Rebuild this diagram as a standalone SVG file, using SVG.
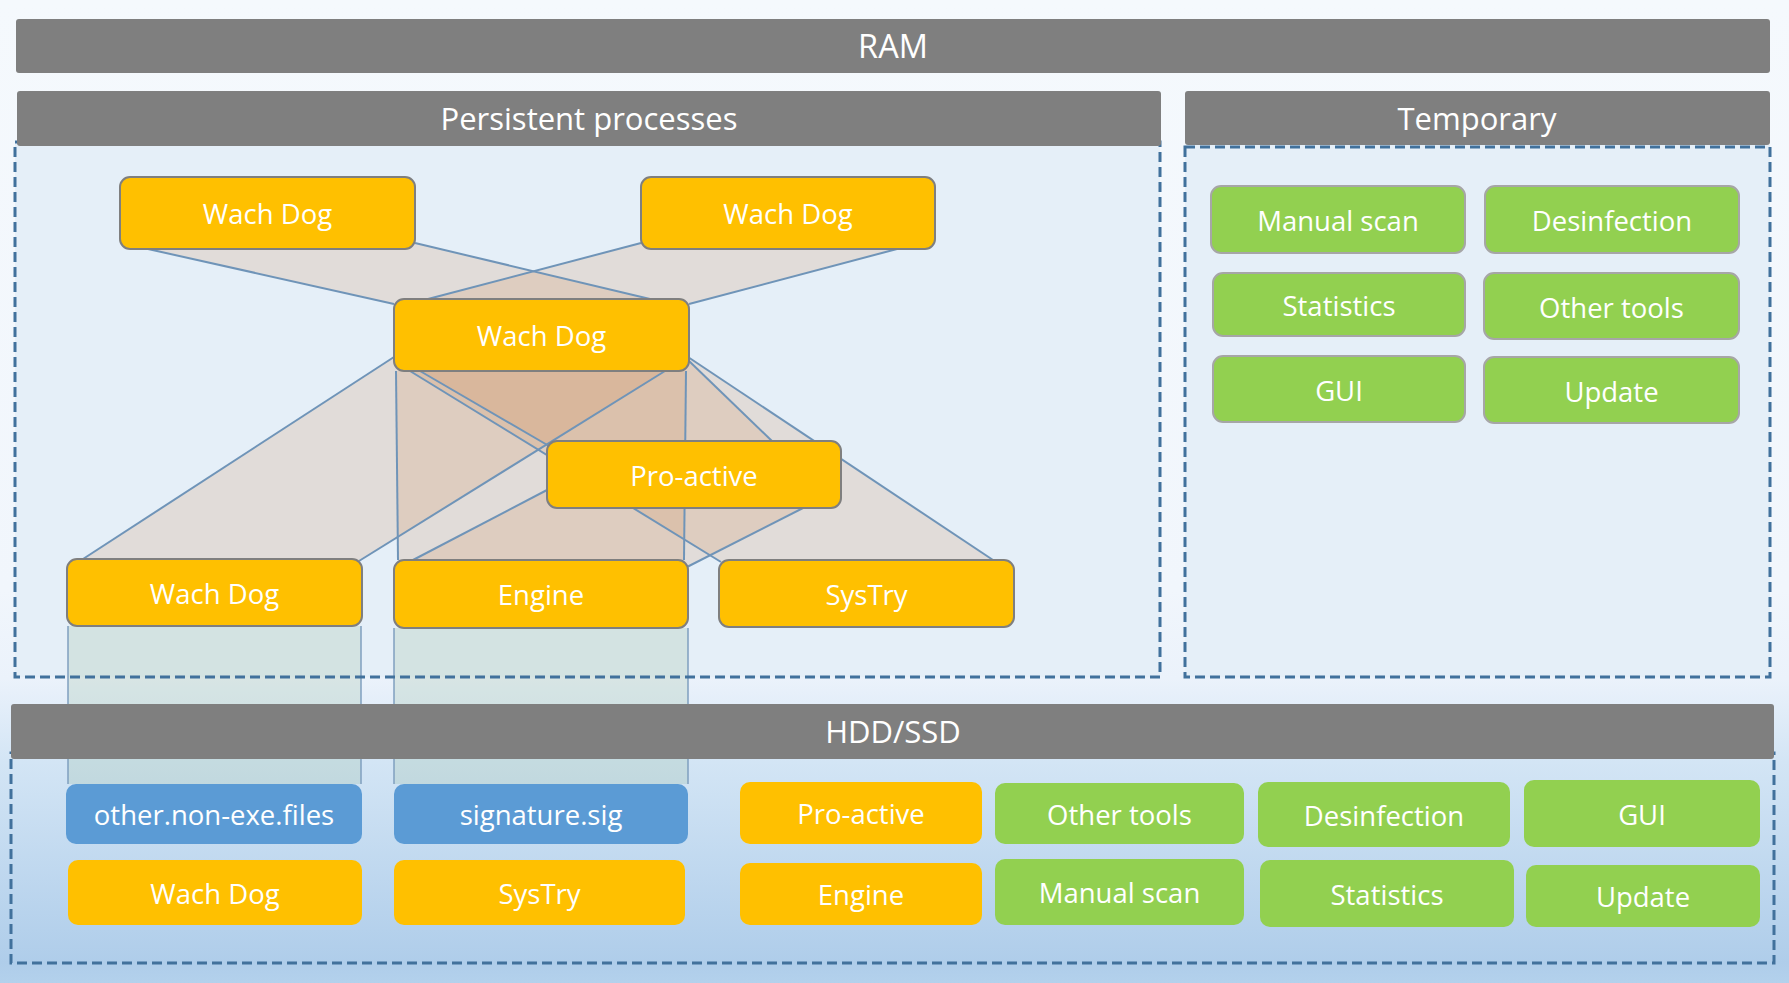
<svg xmlns="http://www.w3.org/2000/svg" width="1789" height="983" viewBox="0 0 1789 983">
<defs>
<linearGradient id="bg" x1="0" y1="0" x2="0" y2="983" gradientUnits="userSpaceOnUse">
<stop offset="0" stop-color="#f5f9fd"/>
<stop offset="0.6" stop-color="#f1f6fc"/>
<stop offset="0.69" stop-color="#ebf2fb"/>
<stop offset="0.775" stop-color="#d3e5f5"/>
<stop offset="0.98" stop-color="#afcdea"/>
<stop offset="1" stop-color="#b3d1ec"/>
</linearGradient>
<style>
.hdr{fill:#7f7f7f}
.ht{font-family:"Open Sans","Noto Sans",sans-serif;font-size:31px;fill:#fff;text-anchor:middle}
.nt{font-family:"Open Sans","Noto Sans",sans-serif;font-size:27.5px;fill:#fff;text-anchor:middle}
.org{fill:#ffc000;stroke:#7f7f7f;stroke-width:2}
.grn{fill:#92d050;stroke:#a6a6a6;stroke-width:2}
.horg{fill:#ffc000}
.hgrn{fill:#92d050}
.hblu{fill:#5b9bd5}
.area{fill:#e5eff8}
.dash{fill:none;stroke:#41719c;stroke-width:3;stroke-dasharray:10 5}
.tz{fill:#d29160;fill-opacity:0.2;stroke:none}
.ln{stroke:#6f94b8;stroke-width:2;fill:none}
.col{fill:#8cb48c;fill-opacity:0.2;stroke:none}
.cl{stroke:#7f9fbf;stroke-width:1.5;fill:none}
</style>
</defs>
<rect x="0" y="0" width="1789" height="983" fill="url(#bg)"/>
<g id="areas">
<rect class="area" x="15" y="142" width="1145" height="535"/>
<rect class="area" x="1185" y="145" width="585" height="532"/>
</g>
<g id="connectors">
<polygon class="tz" points="148,249 415,243 650,299 394,304"/>
<polygon class="tz" points="641,243 897,249 689,304 428,299"/>
<polygon class="tz" points="394,357 665,371 359,561 83,559"/>
<polygon class="tz" points="396,371 686,371 684,560 398,560"/>
<polygon class="tz" points="420,371 688,360 773,442 549,446"/>
<polygon class="tz" points="410,371 688,357 993,560 721,562"/>
<polygon class="tz" points="547,490 803,508 687,567 413,560"/>
<line class="ln" x1="148" y1="249" x2="394" y2="304"/>
<line class="ln" x1="415" y1="243" x2="650" y2="299"/>
<line class="ln" x1="641" y1="243" x2="428" y2="299"/>
<line class="ln" x1="897" y1="249" x2="689" y2="304"/>
<line class="ln" x1="394" y1="357" x2="83" y2="559"/>
<line class="ln" x1="665" y1="371" x2="359" y2="561"/>
<line class="ln" x1="396" y1="371" x2="398" y2="560"/>
<line class="ln" x1="686" y1="371" x2="684" y2="560"/>
<line class="ln" x1="420" y1="371" x2="549" y2="446"/>
<line class="ln" x1="688" y1="360" x2="773" y2="442"/>
<line class="ln" x1="410" y1="371" x2="721" y2="562"/>
<line class="ln" x1="688" y1="357" x2="993" y2="560"/>
<line class="ln" x1="547" y1="490" x2="413" y2="560"/>
<line class="ln" x1="803" y1="508" x2="687" y2="567"/>
<rect class="col" x="68" y="626" width="293" height="158"/>
<rect class="col" x="394" y="628" width="294" height="156"/>
<line class="cl" x1="68" y1="626" x2="68" y2="784"/>
<line class="cl" x1="361" y1="626" x2="361" y2="784"/>
<line class="cl" x1="394" y1="628" x2="394" y2="784"/>
<line class="cl" x1="688" y1="628" x2="688" y2="784"/>
</g>
<g id="borders">
<rect class="dash" x="15" y="142" width="1145" height="535"/>
<rect class="dash" x="1185" y="147" width="585" height="530"/>
<rect class="dash" x="11" y="753" width="1763" height="210"/>
</g>
<g id="ram">
<rect class="hdr" x="16" y="19" width="1754" height="54" rx="3"/>
<text class="ht" x="893" y="58" style="font-size:32.5px">RAM</text>
</g>
<g id="persistent">
<rect class="hdr" x="17" y="91" width="1144" height="55" rx="3"/>
<text class="ht" x="589" y="130">Persistent processes</text>
</g>
<g id="temporary">
<rect class="hdr" x="1185" y="91" width="585" height="54" rx="3"/>
<text class="ht" x="1477" y="130">Temporary</text>
</g>
<g id="hdd">
<rect class="hdr" x="11" y="704" width="1763" height="55" rx="3"/>
<text class="ht" x="893" y="743">HDD/SSD</text>
</g>
<g id="p-wd1"><rect class="org" x="120" y="177" width="295" height="72" rx="10"/><text class="nt" x="267.5" y="224">Wach Dog</text></g>
<g id="p-wd2"><rect class="org" x="641" y="177" width="294" height="72" rx="10"/><text class="nt" x="788" y="224">Wach Dog</text></g>
<g id="p-wd3"><rect class="org" x="394" y="299" width="295" height="72" rx="10"/><text class="nt" x="541.5" y="346">Wach Dog</text></g>
<g id="p-proactive"><rect class="org" x="547" y="441" width="294" height="67" rx="10"/><text class="nt" x="694" y="485.5">Pro-active</text></g>
<g id="p-wd4"><rect class="org" x="67" y="559" width="295" height="67" rx="10"/><text class="nt" x="214.5" y="603.5">Wach Dog</text></g>
<g id="p-engine"><rect class="org" x="394" y="560" width="294" height="68" rx="10"/><text class="nt" x="541" y="605">Engine</text></g>
<g id="p-systry"><rect class="org" x="719" y="560" width="295" height="67" rx="10"/><text class="nt" x="866.5" y="604.5">SysTry</text></g>
<g id="t-manual"><rect class="grn" x="1211" y="186" width="254" height="67" rx="10"/><text class="nt" x="1338" y="231">Manual scan</text></g>
<g id="t-desinf"><rect class="grn" x="1485" y="186" width="254" height="67" rx="10"/><text class="nt" x="1612" y="231">Desinfection</text></g>
<g id="t-stats"><rect class="grn" x="1213" y="273" width="252" height="63" rx="10"/><text class="nt" x="1339" y="316">Statistics</text></g>
<g id="t-other"><rect class="grn" x="1484" y="273" width="255" height="66" rx="10"/><text class="nt" x="1611.5" y="317.5">Other tools</text></g>
<g id="t-gui"><rect class="grn" x="1213" y="356" width="252" height="66" rx="10"/><text class="nt" x="1339" y="400.5">GUI</text></g>
<g id="t-update"><rect class="grn" x="1484" y="357" width="255" height="66" rx="10"/><text class="nt" x="1611.5" y="401.5">Update</text></g>
<g id="h-files"><rect class="hblu" x="66" y="784" width="296" height="60" rx="10"/><text class="nt" x="214" y="825">other.non-exe.files</text></g>
<g id="h-sig"><rect class="hblu" x="394" y="784" width="294" height="60" rx="10"/><text class="nt" x="541" y="825">signature.sig</text></g>
<g id="h-wd"><rect class="horg" x="68" y="860" width="294" height="65" rx="10"/><text class="nt" x="215" y="903.5">Wach Dog</text></g>
<g id="h-systry"><rect class="horg" x="394" y="860" width="291" height="65" rx="10"/><text class="nt" x="539.5" y="903.5">SysTry</text></g>
<g id="h-proactive"><rect class="horg" x="740" y="782" width="242" height="62" rx="10"/><text class="nt" x="861" y="824">Pro-active</text></g>
<g id="h-engine"><rect class="horg" x="740" y="863" width="242" height="62" rx="10"/><text class="nt" x="861" y="905">Engine</text></g>
<g id="h-other"><rect class="hgrn" x="995" y="783" width="249" height="61" rx="10"/><text class="nt" x="1119.5" y="824.5">Other tools</text></g>
<g id="h-desinf"><rect class="hgrn" x="1258" y="782" width="252" height="65" rx="10"/><text class="nt" x="1384" y="825.5">Desinfection</text></g>
<g id="h-gui"><rect class="hgrn" x="1524" y="780" width="236" height="67" rx="10"/><text class="nt" x="1642" y="824.5">GUI</text></g>
<g id="h-manual"><rect class="hgrn" x="995" y="859" width="249" height="66" rx="10"/><text class="nt" x="1119.5" y="903">Manual scan</text></g>
<g id="h-stats"><rect class="hgrn" x="1260" y="860" width="254" height="67" rx="10"/><text class="nt" x="1387" y="904.5">Statistics</text></g>
<g id="h-update"><rect class="hgrn" x="1526" y="865" width="234" height="62" rx="10"/><text class="nt" x="1643" y="907">Update</text></g>
</svg>
